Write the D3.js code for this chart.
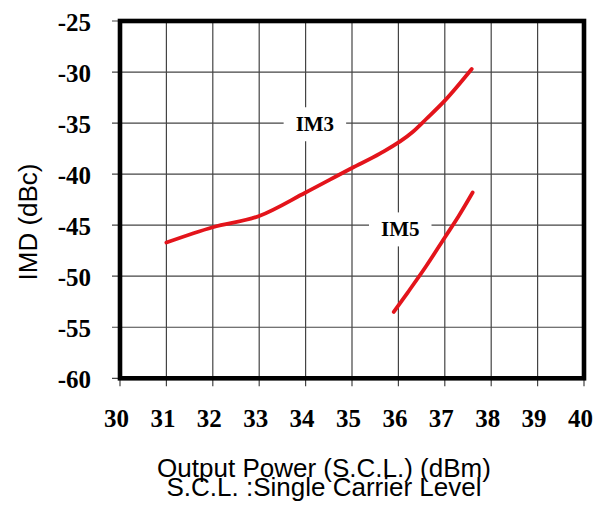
<!DOCTYPE html>
<html>
<head>
<meta charset="utf-8">
<script src="https://cdn.jsdelivr.net/npm/d3@7"></script>
<style>
  body { margin: 0; background: #fff; }
</style>
</head>
<body>
<div id="chart"></div>
<script>
// Values
const xTicks = [30, 31, 32, 33, 34, 35, 36, 37, 38, 39, 40];
const yTicks = [-25, -30, -35, -40, -45, -50, -55, -60];

const im3 = [
  [31, -46.7], [32, -45.2], [33, -44.1], [34, -41.8], [35, -39.4],
  [35.6, -38.0], [36.3, -35.9], [36.6, -34.6], [37, -32.8], [37.58, -29.7]
];
const im5 = [
  [35.9, -53.5], [36.2, -51.6], [36.6, -49.0], [37, -46.2], [37.3, -44.1], [37.6, -41.8]
];

const seriesLabels = [
  { text: 'IM3', x: 34.2, y: -35.8 },
  { text: 'IM5', x: 36.04, y: -46.1 }
];

const COLORS = {
  grid:  '#444',
  frame: '#000',
  curve: '#e3141b',
  text:  '#000'
};

const W = 609, H = 508;
const PLOT = { left: 120, right: 584, top: 21, bottom: 378.3 };

const svg = d3.select('#chart').append('svg')
  .attr('width', W)
  .attr('height', H)
  .style('background-color', '#fff');

const x = d3.scaleLinear().domain([30, 40]).range([PLOT.left, PLOT.right]);
const y = d3.scaleLinear().domain([-60, -25]).range([PLOT.bottom, PLOT.top]);

// Grid (runs past the frame as tick marks)
svg.append('g')
  .selectAll('line')
  .data(xTicks)
  .enter().append('line')
    .attr('x1', d => x(d)).attr('x2', d => x(d))
    .attr('y1', PLOT.top).attr('y2', PLOT.bottom + 8)
    .style('stroke', COLORS.grid)
    .style('stroke-width', 1.2);

svg.append('g')
  .selectAll('line')
  .data(yTicks)
  .enter().append('line')
    .attr('x1', PLOT.left - 8).attr('x2', PLOT.right)
    .attr('y1', d => y(d)).attr('y2', d => y(d))
    .style('stroke', COLORS.grid)
    .style('stroke-width', 1.2);

// Frame
svg.append('rect')
  .attr('x', PLOT.left)
  .attr('y', PLOT.top)
  .attr('width', PLOT.right - PLOT.left)
  .attr('height', PLOT.bottom - PLOT.top)
  .style('fill', 'none')
  .style('stroke', COLORS.frame)
  .style('stroke-width', 4.6);

// Tick labels
svg.append('g')
  .selectAll('text')
  .data(yTicks)
  .enter().append('text')
    .text(d => d)
    .attr('x', 91)
    .attr('y', d => y(d) + 10)
    .attr('text-anchor', 'end')
    .attr('font-family', '"Liberation Serif", serif')
    .attr('font-weight', 'bold')
    .attr('font-size', 25)
    .style('fill', COLORS.text);

svg.append('g')
  .selectAll('text')
  .data(xTicks)
  .enter().append('text')
    .text(d => d)
    .attr('x', d => x(d) - 3.5)
    .attr('y', 426.5)
    .attr('text-anchor', 'middle')
    .attr('font-family', '"Liberation Serif", serif')
    .attr('font-weight', 'bold')
    .attr('font-size', 25)
    .style('fill', COLORS.text);

// Curves
const line = d3.line()
  .x(d => x(d[0]))
  .y(d => y(d[1]))
  .curve(d3.curveMonotoneX);

for (let s of [im3, im5]) {
  svg.append('path')
    .datum(s)
    .attr('d', line)
    .style('fill', 'none')
    .style('stroke', COLORS.curve)
    .style('stroke-width', 3.8)
    .style('stroke-linecap', 'round');
}

// Series labels on white boxes
for (let l of seriesLabels) {
  let g = svg.append('g')
    .attr('transform', `translate(${x(l.x)},${y(l.y)})`);
  let t = g.append('text')
    .text(l.text)
    .attr('text-anchor', 'middle')
    .attr('font-family', '"Liberation Serif", serif')
    .attr('font-weight', 'bold')
    .attr('font-size', 21)
    .style('fill', COLORS.text);
  let bb = t.node().getBBox();
  g.insert('rect', 'text')
    .attr('x', bb.x - 12)
    .attr('y', bb.y - 5)
    .attr('width', bb.width + 24)
    .attr('height', bb.height + 10)
    .style('fill', '#fff');
}

// Axis titles
svg.append('text')
  .text('IMD (dBc)')
  .attr('transform', 'translate(37,222) rotate(-90)')
  .attr('text-anchor', 'middle')
  .attr('font-family', '"Liberation Sans", Arial, sans-serif')
  .attr('font-size', 26)
  .style('fill', COLORS.text);

const xTitle = ['Output Power (S.C.L.) (dBm)', 'S.C.L. :Single Carrier Level'];
svg.append('g')
  .selectAll('text')
  .data(xTitle)
  .enter().append('text')
    .text(d => d)
    .attr('x', 324)
    .attr('y', (d, i) => 477 + i * 19)
    .attr('text-anchor', 'middle')
    .attr('font-family', '"Liberation Sans", Arial, sans-serif')
    .attr('font-size', 26)
    .style('fill', COLORS.text);
</script>
</body>
</html>
